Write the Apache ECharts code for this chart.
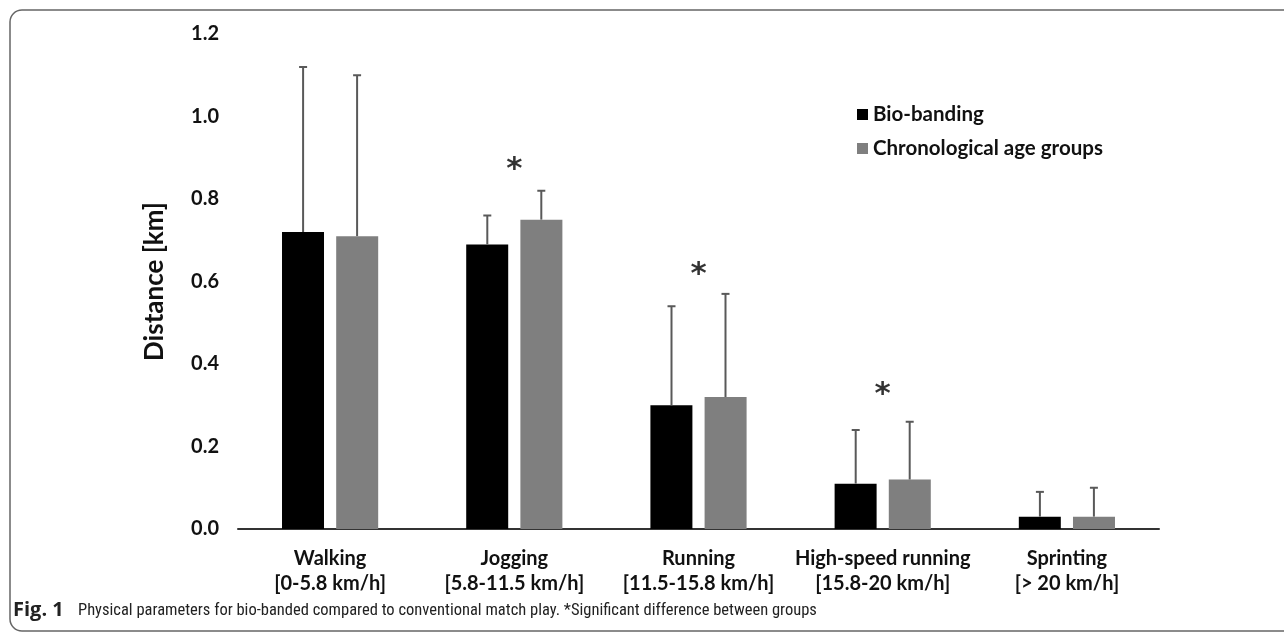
<!DOCTYPE html>
<html>
<head>
<meta charset="utf-8">
<script src="https://cdn.jsdelivr.net/npm/echarts@6/dist/echarts.min.js"></script>
<style>
  html, body { margin: 0; padding: 0; background: #fff; }
  #chart { width: 1284px; height: 632px; }
</style>
</head>
<body>
<div id="chart"></div>
<script>
// speed zones
const categories = [
  'Walking\n[0-5.8 km/h]',
  'Jogging\n[5.8-11.5 km/h]',
  'Running\n[11.5-15.8 km/h]',
  'High-speed running\n[15.8-20 km/h]',
  'Sprinting\n[> 20 km/h]'
];
const seriesNames = ['Bio-banding', 'Chronological age groups'];
// mean distance (km)
const bioMean = [0.72, 0.69, 0.30, 0.11, 0.03];
const chronoMean = [0.71, 0.75, 0.32, 0.12, 0.03];
// mean + SD (top of the error bar)
const bioUpper = [1.12, 0.76, 0.54, 0.24, 0.09];
const chronoUpper = [1.10, 0.82, 0.57, 0.26, 0.10];
// where the significance asterisk sits (null = none)
const sigMarks = [null, 0.89, 0.635, 0.345, null];
const yTicks = [0, 0.2, 0.4, 0.6, 0.8, 1.0, 1.2];

const font = 'Lato, "Open Sans", sans-serif';
const capFont = '"Roboto Condensed", Roboto, sans-serif';
const BAR_W = 42;
const OFFSET = 27; // half bar + half gap

function errorSeries(mean, upper, shift) {
  return {
    type: 'custom',
    z: 5,
    silent: true,
    data: mean.map((m, i) => [i, m, upper[i]]),
    renderItem(params, api) {
      const base = api.coord([api.value(0), api.value(1)]);
      const top = api.coord([api.value(0), api.value(2)]);
      const x = base[0] + shift;
      const style = { stroke: '#595959', lineWidth: 2 };
      return {
        type: 'group',
        children: [
          { type: 'line', shape: { x1: x, y1: base[1], x2: x, y2: top[1] }, style },
          { type: 'line', shape: { x1: x - 4, y1: top[1], x2: x + 4, y2: top[1] }, style }
        ]
      };
    }
  };
}

const chart = echarts.init(document.getElementById('chart'));
chart.setOption({
  animation: false,
  textStyle: { fontFamily: font },
  grid: { left: 238, right: 125, top: 34, bottom: 103 },
  legend: {
    data: seriesNames,
    orient: 'vertical',
    icon: 'rect',
    left: 852,
    top: 99,
    itemWidth: 11,
    itemHeight: 11,
    itemGap: 13,
    textStyle: { fontSize: 20.5, fontWeight: 'bold', color: '#111', fontFamily: font }
  },
  xAxis: {
    type: 'category',
    data: categories,
    axisLine: { lineStyle: { color: '#333', width: 2 } },
    axisTick: { show: false },
    axisLabel: {
      interval: 0,
      margin: 17,
      fontSize: 20,
      lineHeight: 25,
      fontWeight: 'bold',
      color: '#111',
      fontFamily: font
    }
  },
  yAxis: {
    type: 'value',
    min: 0,
    max: yTicks[yTicks.length - 1],
    interval: 0.2,
    name: 'Distance [km]',
    nameLocation: 'middle',
    nameRotate: 90,
    nameGap: 70,
    nameTextStyle: { fontSize: 26, fontWeight: 'bold', color: '#111', fontFamily: font },
    axisLine: { show: false },
    axisTick: { show: false },
    splitLine: { show: false },
    axisLabel: {
      margin: 19,
      fontSize: 20,
      fontWeight: 'bold',
      color: '#111',
      fontFamily: font,
      formatter: v => v.toFixed(1)
    }
  },
  series: [
    {
      name: seriesNames[0],
      type: 'bar',
      data: bioMean,
      barWidth: BAR_W,
      barGap: '29%',
      itemStyle: { color: '#000' }
    },
    {
      name: seriesNames[1],
      type: 'bar',
      data: chronoMean,
      barWidth: BAR_W,
      itemStyle: { color: '#7f7f7f' }
    },
    errorSeries(bioMean, bioUpper, -OFFSET),
    errorSeries(chronoMean, chronoUpper, OFFSET),
    {
      type: 'scatter',
      symbolSize: 0,
      silent: true,
      data: sigMarks.map((v, i) => (v == null ? null : [i, v])),
      label: {
        show: true,
        position: 'inside',
        offset: [0, 8],
        formatter: '*',
        fontSize: 31,
        fontWeight: 'bold',
        color: '#000',
        fontFamily: '"DejaVu Sans", sans-serif'
      }
    }
  ],
  graphic: [
    {
      type: 'rect',
      shape: { x: 10, y: 10, width: 1320, height: 621, r: 12 },
      style: { fill: 'none', stroke: '#666', lineWidth: 1.5 },
      silent: true
    },
    {
      type: 'text',
      left: 13,
      top: 600,
      style: {
        text: 'Fig. 1',
        fontFamily: '"Open Sans", sans-serif',
        fontWeight: 'bold',
        fontSize: 20,
        fill: '#222'
      }
    },
    {
      type: 'text',
      left: 78,
      top: 602,
      style: {
        text: 'Physical parameters for bio-banded compared to conventional match play. *Significant difference between groups',
        fontFamily: capFont,
        fontSize: 16.5,
        fill: '#222'
      }
    }
  ]
});
</script>
</body>
</html>
